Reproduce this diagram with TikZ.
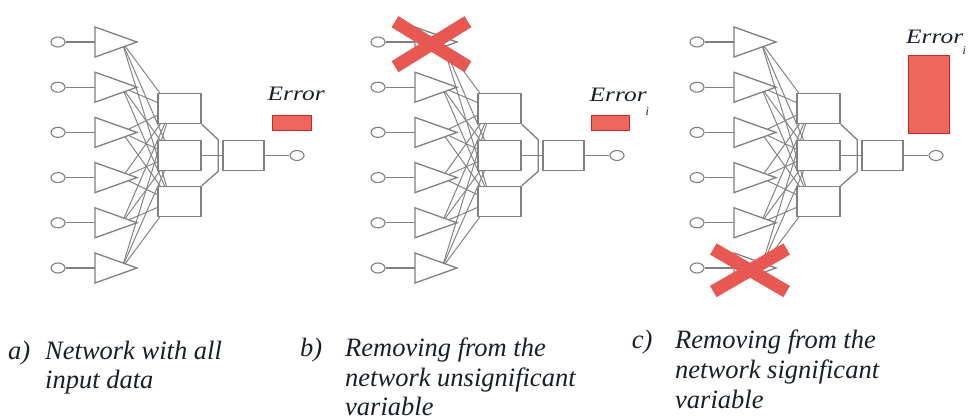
\documentclass[tikz,border=0pt]{standalone}
\usepackage{fontspec}
\usepackage{graphicx}
\setmainfont{Liberation Serif}[
  UprightFont={Liberation Serif},
  ItalicFont={Liberation Serif Italic},
  BoldFont={Liberation Serif Bold}]
\usetikzlibrary{shapes.geometric,calc}

\definecolor{netgray}{RGB}{128,128,128}
\definecolor{fangray}{RGB}{132,132,132}
\definecolor{errfill}{RGB}{238,102,92}
\definecolor{errdraw}{RGB}{196,40,44}
\definecolor{crossred}{RGB}{232,88,82}
\definecolor{inkdark}{RGB}{25,30,45}

\pgfdeclarelayer{bglayer}
\pgfdeclarelayer{fanlayer}
\pgfsetlayers{bglayer,fanlayer,main}

\tikzset{
  port/.style={ellipse, draw=netgray, line width=1.1pt, fill=white,
    minimum width=14pt, minimum height=10pt, inner sep=0pt},
  unit/.style={rectangle, draw=netgray, line width=1.4pt, fill=white,
    minimum width=43pt, minimum height=30pt, inner sep=0pt},
  outunit/.style={unit, minimum width=41pt},
  wire/.style={draw=netgray, line width=1.3pt},
  fan/.style={draw=fangray, line width=1pt},
  tri/.style={draw=netgray, line width=1.3pt, fill=white, line join=miter},
  errbar/.style={rectangle, draw=errdraw, fill=errfill, line width=0.8pt, inner sep=0pt},
  xbar/.style={draw=crossred, line width=13pt},
  errtext/.style={font=\fontsize{20.5}{20.5}\selectfont\itshape, text=inkdark,
    inner sep=0pt, anchor=base west},
  subtext/.style={font=\fontsize{12}{12}\selectfont\itshape, text=inkdark,
    inner sep=0pt, anchor=base west},
  captext/.style={font=\fontsize{26.5}{29}\selectfont\itshape, text=inkdark,
    inner sep=0pt, anchor=base west},
}

% One network: inputs, input triangles, three hidden units, one output unit.
% #1 = horizontal offset, #2 = name prefix
\newcommand{\network}[2]{%
  \begin{scope}[xshift=#1pt]
    \foreach \k in {1,...,6}{%
      \pgfmathsetmacro\ry{42+45.2*(\k-1)}
      \coordinate (#2-tin\k) at (95,\ry);
      \coordinate (#2-tip\k) at (137,\ry);
      \coordinate (#2-s\k) at (122,\ry);
      \node[port] (#2-i\k) at (58,\ry) {};
    }
    \node[unit] (#2-h1) at (179.5,108.5) {};
    \node[unit] (#2-h2) at (179.5,155.5) {};
    \node[unit] (#2-h3) at (179.5,201.5) {};
    \node[outunit] (#2-o) at (243.5,155.5) {};
    \node[port] (#2-y) at (297,155.5) {};
    % fully connected input-to-hidden weights, drawn underneath
    \begin{pgfonlayer}{fanlayer}
      \foreach \k in {1,...,6}{%
        \foreach \j in {1,2,3}{%
          \draw[fan] (#2-s\k) -- ($(#2-h\j.west)+(14,0)$);
        }
      }
    \end{pgfonlayer}
    \foreach \k in {1,...,6}{%
      \draw[wire] (#2-i\k) -- (#2-tin\k);
      \draw[tri] ($(#2-tin\k)+(0,-15)$) -- (#2-tip\k) -- ($(#2-tin\k)+(0,15)$) -- cycle;
    }
    \draw[wire] (#2-h2.east) -- (#2-o.west);
    \draw[wire] (#2-h1.south east) -- ($(#2-o.north west)+(-4,0)$)
      -- ($(#2-o.south west)+(-4,0)$) -- (#2-h3.north east);
    \draw[wire] (#2-o.east) -- (#2-y);
  \end{scope}
}

\begin{document}
\begin{tikzpicture}[x=1pt,y=-1pt]
  \begin{pgfonlayer}{bglayer}
    \fill[white] (0,0) rectangle (969,420);
  \end{pgfonlayer}
  \useasboundingbox (0,0) rectangle (969,420);

  \network{0}{a}
  \network{320}{b}
  \network{639}{c}

  % error indicators
  \node[errbar, minimum width=39pt, minimum height=15pt] (a-err) at (292.2,122.5) {};
  \node[errtext] (a-lbl) at (267.5,100) {\scalebox{1.24}[1]{Error}};

  \node[errbar, minimum width=38pt, minimum height=15pt] (b-err) at (610.8,123.3) {};
  \node[errtext] (b-lbl) at (589.5,101.5) {\scalebox{1.24}[1]{Error}};
  \node[subtext] (b-sub) at (645.5,115.5) {i};

  \node[errbar, minimum width=41pt, minimum height=78pt] (c-err) at (928.8,94.2) {};
  \node[errtext] (c-lbl) at (906,43.3) {\scalebox{1.24}[1]{Error}};
  \node[subtext] (c-sub) at (962.5,55) {i};

  % removed inputs
  \draw[xbar] (395,21.7) -- (468,66.7);
  \draw[xbar] (395,66.7) -- (468,21.7);
  \draw[xbar] (713.3,249) -- (786.7,291.5);
  \draw[xbar] (713.3,291.5) -- (786.7,249);

  % captions
  \node[captext] (a-tag) at (8,359.3) {a)};
  \node[captext] (a-l1) at (45,359.3) {Network with all};
  \node[captext] (a-l2) at (45,388.3) {input data};

  \node[captext] (b-tag) at (300,356.7) {b)};
  \node[captext] (b-l1) at (345,356.7) {Removing from the};
  \node[captext] (b-l2) at (345,386.5) {network unsignificant};
  \node[captext] (b-l3) at (345,415) {variable};

  \node[captext] (c-tag) at (631.7,348) {c)};
  \node[captext] (c-l1) at (675,348) {Removing from the};
  \node[captext] (c-l2) at (675,378) {network significant};
  \node[captext] (c-l3) at (675,408) {variable};
\end{tikzpicture}
\end{document}
